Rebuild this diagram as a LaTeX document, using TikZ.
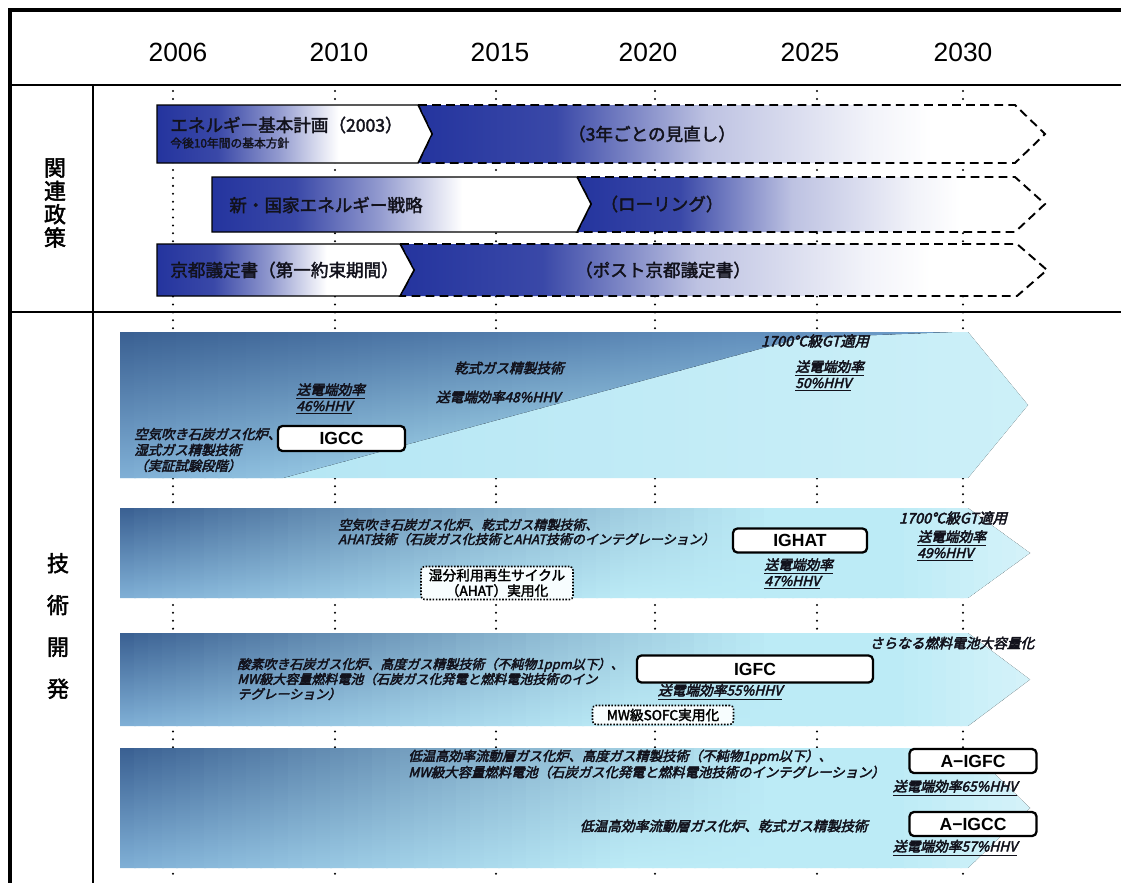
\documentclass[tikz,border=0pt]{standalone}
\usepackage{fontspec}
\setmainfont{Noto Sans CJK JP}
\newfontfamily\jpbold[FakeBold=2.2]{Noto Sans CJK JP}
\newfontfamily\jpslant[FakeSlant=0.25,FakeBold=3]{Noto Sans CJK JP}
\newfontfamily\latinfont{Liberation Sans}
\usetikzlibrary{positioning}

\definecolor{polblue}{RGB}{36,52,158}
\colorlet{polblueA}{polblue!90!white}
\colorlet{polblueB}{polblue!50!white}
\colorlet{polblueC}{polblue!30!white}
\colorlet{polblueD}{polblue!6!white}
\definecolor{techtl}{RGB}{58,96,146}
\definecolor{techbl}{RGB}{128,176,214}
\definecolor{techr}{RGB}{188,235,246}
\definecolor{techa}{RGB}{176,228,243}
\definecolor{techam}{RGB}{112,160,204}
\definecolor{inkdark}{RGB}{18,18,28}

\pgfdeclarehorizontalshading{polfirst}{100bp}{color(0bp)=(polblue); color(25bp)=(polblue); color(36bp)=(polblueA); color(47bp)=(polblueB); color(58bp)=(white); color(100bp)=(white)}
\pgfdeclarehorizontalshading{polnext}{100bp}{color(0bp)=(polblue); color(25bp)=(polblue); color(36bp)=(polblueA); color(48bp)=(polblueC); color(61bp)=(polblueD); color(66bp)=(white); color(100bp)=(white)}

\begin{document}
\begin{tikzpicture}[x=0.02cm, y=-0.02cm,
    yearlabel/.style={font=\latinfont\fontsize{15}{17}\selectfont},
    sidelabel/.style={font=\jpbold\fontsize{12.5}{13.3}\selectfont, align=center},
    policytext/.style={font=\jpbold\fontsize{10}{11}\selectfont, text=inkdark, inner sep=0pt},
    firstbar/.style={draw=black, line width=0.8pt, shade, shading=polfirst},
    nextbar/.style={draw=black, line width=1.1pt, dash pattern=on 5pt off 3pt, shade, shading=polnext},
    techtext/.style={font=\jpslant\fontsize{7.4}{8.2}\selectfont, text=inkdark, inner sep=0pt, align=left},
    efftext/.style={font=\jpslant\fontsize{7.8}{9.2}\selectfont, text=inkdark, inner sep=0pt, align=left},
    techbox/.style={draw, line width=1.3pt, rounded corners=2.5pt, fill=white, inner sep=0pt,
      font=\latinfont\bfseries\fontsize{10}{12}\selectfont},
    trialbox/.style={draw, line width=0.9pt, dash pattern=on 0.9pt off 0.9pt, rounded corners=2pt,
      fill=white!88!techr, inner sep=0pt, align=center, font=\jpbold\fontsize{7.8}{8.8}\selectfont},
    coldots/.style={line width=1.3pt, dash pattern=on 0pt off 4.5pt, line cap=round}]

  \useasboundingbox (0,0) rectangle (1121,883);
  \fill[white] (0,0) rectangle (1121,883);

  % Timeline columns
  \foreach \x in {173,335,496,655,817,963}
    \draw[coldots] (\x,91) -- (\x,874);

  % Frame
  \draw[line width=2pt] (1121,10) -- (10,10) -- (10,883);
  \draw[line width=1.1pt] (10,85) -- (1121,85);
  \draw[line width=1.1pt] (10,312) -- (1121,312);
  \draw[line width=1.1pt] (93,85) -- (93,883);

  % Years
  \foreach \yr/\x in {2006/178,2010/339,2015/500,2020/648,2025/810,2030/963}
    \node[yearlabel] (y\yr) at (\x,52) {\yr};

  % Side labels
  \node[sidelabel] (policy) at (55,203) {関\\連\\政\\策};
  \node[sidelabel, font=\jpbold\fontsize{12.5}{23.8}\selectfont] (techdev) at (58,626) {技\\術\\開\\発};

  % Policy rows
  \draw[nextbar] (418,105) -- (1015,105) -- (1045,134) -- (1015,163) -- (418,163) -- (432,134) -- cycle;
  \draw[firstbar] (157,105) -- (418,105) -- (432,134) -- (418,163) -- (157,163) -- cycle;
  \draw[nextbar] (577,177) -- (1015,177) -- (1045,204) -- (1015,232) -- (577,232) -- (591,204) -- cycle;
  \draw[firstbar] (212,177) -- (577,177) -- (591,204) -- (577,232) -- (212,232) -- cycle;
  \draw[nextbar] (400,244) -- (1017,244) -- (1047,270) -- (1017,296) -- (400,296) -- (414,270) -- cycle;
  \draw[firstbar] (157,244) -- (400,244) -- (414,270) -- (400,296) -- (157,296) -- cycle;

  \node[policytext, anchor=west] (plan) at (170,125) {エネルギー基本計画（2003）};
  \node[policytext, anchor=west, font=\jpbold\fontsize{6.7}{7.5}\selectfont] (plansub) at (170,143) {今後10年間の基本方針};
  \node[policytext] (review) at (652,134) {（3年ごとの見直し）};
  \node[policytext, anchor=west] (strategy) at (229,205) {新・国家エネルギー戦略};
  \node[policytext] (rolling) at (662,204) {（ローリング）};
  \node[policytext, anchor=west] (kyoto) at (170,270) {京都議定書（第一約束期間）};
  \node[policytext] (postkyoto) at (663,270) {（ポスト京都議定書）};

  % Technology row A
  \begin{scope}
    \clip (120,332) -- (968,332) -- (1028,405) -- (968,478) -- (120,478) -- cycle;
    \fill[left color=techa, right color=techr!75!white] (120,332) rectangle (1030,478);
    \clip (120,332) -- (952,332) -- (800,338) -- (283,478) -- (120,478) -- cycle;
    \foreach \i in {0,...,60} {
      \pgfmathtruncatemacro\mixtop{max(0,100-\i*100/62)}
      \pgfmathtruncatemacro\mixbot{max(0,100-\i*100/30)}
      \fill[top color=techtl!\mixtop!techam, bottom color=techbl!\mixbot!techa]
        (120+\i*14,332) rectangle (136+\i*14,478);
    }
  \end{scope}

  % Technology rows B, C, D
  \foreach \yt/\yb in {508/598,633/726,748/868} {
    \pgfmathsetmacro\ym{(\yt+\yb)/2}
    \begin{scope}
      \clip (120,\yt) -- (968,\yt) -- (1030,\ym) -- (968,\yb) -- (120,\yb) -- cycle;
      \foreach \i in {0,...,65} {
        \pgfmathtruncatemacro\mixtop{max(0,100-\i*100/46)}
        \pgfmathtruncatemacro\mixbot{max(0,100-\i*100/36)}
        \pgfmathtruncatemacro\mixwh{100-max(0,(\i-55)*4)}
        \fill[top color=techtl!\mixtop!techr!\mixwh!white, bottom color=techbl!\mixbot!techr!\mixwh!white]
          (120+\i*14,\yt) rectangle (136+\i*14,\yb);
      }
    \end{scope}
  }

  % Row A labels
  \node[techtext, anchor=west, font=\jpslant\fontsize{7.6}{9}\selectfont] (airgas) at (134,450) {空気吹き石炭ガス化炉、\\湿式ガス精製技術\\（実証試験段階）};
  \node[techbox, minimum width=2.54cm, minimum height=0.5cm] (igcc) at (341.5,438.5) {IGCC};
  \node[efftext, anchor=west] (effA) at (296,399) {\underline{送電端効率}\\\underline{46\%HHV}};
  \node[techtext, font=\jpslant\fontsize{7.8}{9}\selectfont] (drygas) at (509,368) {乾式ガス精製技術};
  \node[techtext, font=\jpslant\fontsize{7.8}{9}\selectfont] (effA2) at (498,397) {送電端効率48\%HHV};
  \node[techtext, font=\jpslant\fontsize{8.2}{9}\selectfont] (gtA) at (815,341) {1700℃級GT適用};
  \node[efftext, anchor=west] (effA3) at (795,376) {\underline{送電端効率}\\\underline{50\%HHV}};

  % Row B labels
  \node[techtext, anchor=west] (ahatgas) at (338,532) {空気吹き石炭ガス化炉、乾式ガス精製技術、\\AHAT技術（石炭ガス化技術とAHAT技術のインテグレーション）};
  \node[techbox, minimum width=2.68cm, minimum height=0.48cm] (ighat) at (800,540.5) {IGHAT};
  \node[efftext, anchor=west] (effB) at (764,574) {\underline{送電端効率}\\\underline{47\%HHV}};
  \node[techtext, font=\jpslant\fontsize{8.2}{9}\selectfont] (gtB) at (953,518) {1700℃級GT適用};
  \node[efftext, anchor=west] (effB2) at (917,546) {\underline{送電端効率}\\\underline{49\%HHV}};
  \node[trialbox, minimum width=3.04cm, minimum height=0.66cm] (ahat) at (497,583) {湿分利用再生サイクル\\（AHAT）実用化};

  % Row C labels
  \node[techtext, anchor=west, font=\jpslant\fontsize{7.4}{8.5}\selectfont] (oxygas) at (237,679) {酸素吹き石炭ガス化炉、高度ガス精製技術（不純物1ppm以下）、\\MW級大容量燃料電池（石炭ガス化発電と燃料電池技術のイン\\テグレーション）};
  \node[techbox, minimum width=4.72cm, minimum height=0.54cm] (igfc) at (755,669) {IGFC};
  \node[efftext] (effC) at (720,692) {\underline{送電端効率55\%HHV}};
  \node[trialbox, minimum width=2.82cm, minimum height=0.38cm] (sofc) at (663,715) {MW級SOFC実用化};
  \node[techtext, font=\jpslant\fontsize{7.8}{9}\selectfont] (bigcell) at (952,643) {さらなる燃料電池大容量化};

  % Row D labels
  \node[techtext, anchor=west, font=\jpslant\fontsize{7.6}{7.9}\selectfont] (lowgas) at (408,764) {低温高効率流動層ガス化炉、高度ガス精製技術（不純物1ppm以下）、\\MW級大容量燃料電池（石炭ガス化発電と燃料電池技術のインテグレーション）};
  \node[techbox, minimum width=2.54cm, minimum height=0.48cm] (aigfc) at (973,761) {A−IGFC};
  \node[efftext] (effD) at (955,788) {\underline{送電端効率65\%HHV}};
  \node[techtext, anchor=east, font=\jpslant\fontsize{7.8}{9}\selectfont] (lowdry) at (868,826) {低温高効率流動層ガス化炉、乾式ガス精製技術};
  \node[techbox, minimum width=2.54cm, minimum height=0.48cm] (aigcc) at (973,824) {A−IGCC};
  \node[efftext] (effD2) at (955,848) {\underline{送電端効率57\%HHV}};
\end{tikzpicture}
\end{document}
